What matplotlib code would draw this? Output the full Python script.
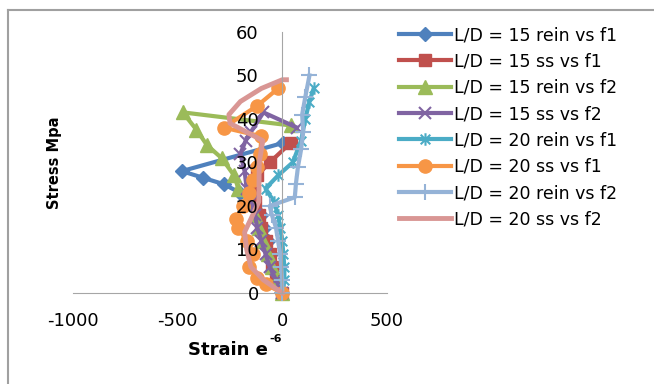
import matplotlib.pyplot as plt
import numpy as np
from matplotlib.path import Path
from matplotlib.lines import Line2D

plt.rcParams['font.family'] = ['DejaVu Sans']
plt.rcParams['axes.unicode_minus'] = False

# L/D = 15 rein vs f1
x1 = [0, -20, -40, -55, -70, -85, -100, -150, -200, -280, -380, -480, 5]
y1 = [0, 3, 6, 9, 12, 15, 18, 21, 23, 25, 26.5, 28, 34.5]
# L/D = 15 ss vs f1
x2 = [0, -30, -50, -60, -80, -100, -110, -130, -150, -120, -60, 40]
y2 = [0, 3, 6, 9, 12, 15, 18, 21, 24, 27, 30, 34.5]
# L/D = 15 rein vs f2
x3 = [0, -30, -50, -70, -90, -110, -130, -160, -210, -230, -290, -360, -410, -475, 40]
y3 = [0, 3, 6, 9, 12, 15, 18, 21, 24, 27, 31, 34, 37.5, 41.5, 38.5]
# L/D = 15 ss vs f2
x4 = [0, -30, -60, -80, -100, -120, -130, -150, -170, -180, -200, -175, -150, -90, 70]
y4 = [0, 3, 6, 9, 12, 15, 18, 21, 24, 28, 32, 35, 37, 41.5, 38]
# L/D = 20 rein vs f1
x5 = [0, 10, 10, 5, 0, -10, -20, -40, -80, -20, 50, 90, 110, 130, 150]
y5 = [0, 3, 6, 9, 12, 15, 18, 21, 24, 27, 30, 35, 40, 44, 47]
# L/D = 20 ss vs f1
x6 = [0, -80, -120, -160, -140, -170, -210, -220, -190, -160, -140, -120, -105, -100, -280, -120, -20]
y6 = [0, 2, 3.5, 6, 9, 12, 15, 17, 20, 23, 26, 29, 32, 36, 38, 43, 47]
# L/D = 20 rein vs f2
x7 = [0, 0, -5, -10, -20, -30, -50, -60, 60, 65, 75, 90, 100, 95, 110, 130]
y7 = [0, 3, 6, 9, 12, 15, 18, 20, 22, 25, 29, 33, 37, 41, 45, 50]
# L/D = 20 ss vs f2
x8 = [0, -90, -150, -170, -180, -150, -112, -110, -93, -250, -255, -200, -100, 0, 20]
y8 = [0, 3, 6, 10, 14, 17, 21, 30, 35, 39, 41, 44, 47, 49, 49]

labels = ['L/D = 15 rein vs f1', 'L/D = 15 ss vs f1', 'L/D = 15 rein vs f2',
          'L/D = 15 ss vs f2', 'L/D = 20 rein vs f1', 'L/D = 20 ss vs f1',
          'L/D = 20 rein vs f2', 'L/D = 20 ss vs f2']

# excel style asterisk: an x with a vertical stroke
star = Path([(-1, -1), (1, 1), (-1, 1), (1, -1), (0, -1.3), (0, 1.3)],
            [Path.MOVETO, Path.LINETO, Path.MOVETO, Path.LINETO, Path.MOVETO, Path.LINETO])

fig = plt.figure(figsize=(6.54, 3.84), dpi=100)
ax = fig.add_axes([0.1116, 0.237, 0.480, 0.68])
ax.set_axisbelow(False)

lw = 3
ax.plot(x1, y1, color='#4F81BD', lw=lw, marker='D', ms=7.5, label=labels[0], clip_on=False)
ax.plot(x2, y2, color='#C0504D', lw=lw, marker='s', ms=8.5, label=labels[1], clip_on=False)
ax.plot(x3, y3, color='#9BBB59', lw=lw, marker='^', ms=10, label=labels[2], clip_on=False)
ax.plot(x4, y4, color='#8064A2', lw=lw, marker='x', ms=9, mew=1.5, label=labels[3], clip_on=False)
ax.plot(x5, y5, color='#4BACC6', lw=lw, marker=star, ms=9, mew=1.5, mfc='none', label=labels[4], clip_on=False)
ax.plot(x6, y6, color='#F79646', lw=lw, marker='o', ms=9.5, label=labels[5], clip_on=False)
ax.plot(x7, y7, color='#95B3D7', lw=lw, marker='+', ms=11, mew=1.5, label=labels[6], clip_on=False)
ax.plot(x8, y8, color='#D99694', lw=lw + 0.5, label=labels[7], clip_on=False)

ax.set_xlim(-1000, 500)
ax.set_ylim(0, 60)
ax.set_xticks([-1000, -500, 0, 500])
ax.set_yticks(range(0, 61, 10))
for s in ['top', 'right']:
    ax.spines[s].set_visible(False)
ax.spines['left'].set_position(('data', 0))
ax.spines['left'].set_color('#A6A6A6')
ax.spines['bottom'].set_color('#A6A6A6')
ax.tick_params(length=0, labelsize=13)
ax.tick_params(axis='x', pad=14)
ax.tick_params(axis='y', pad=17)

fig.text(268 / 654, 0.089, 'Strain e', fontsize=13, fontweight='bold', ha='right', va='center')
fig.text(269 / 654, 0.117, '-6', fontsize=8, fontweight='bold', ha='left', va='center')
fig.text(0.084, 0.575, 'Stress Mpa', fontsize=10.5, fontweight='bold', rotation=90, ha='center', va='center')

ax.legend(loc='upper left', bbox_to_anchor=(0.600, 0.95), bbox_transform=fig.transFigure,
          frameon=False, fontsize=12.5, handlelength=3.0, labelspacing=0.48,
          handletextpad=0.15, borderaxespad=0)

# outer frame lines
fig.add_artist(Line2D([8 / 654, 1], [1 - 10 / 384] * 2, color='#A0A0A0', lw=1.5))
fig.add_artist(Line2D([8 / 654] * 2, [0, 1 - 10 / 384], color='#A0A0A0', lw=1.5))

fig.savefig('out.png', dpi=100)
